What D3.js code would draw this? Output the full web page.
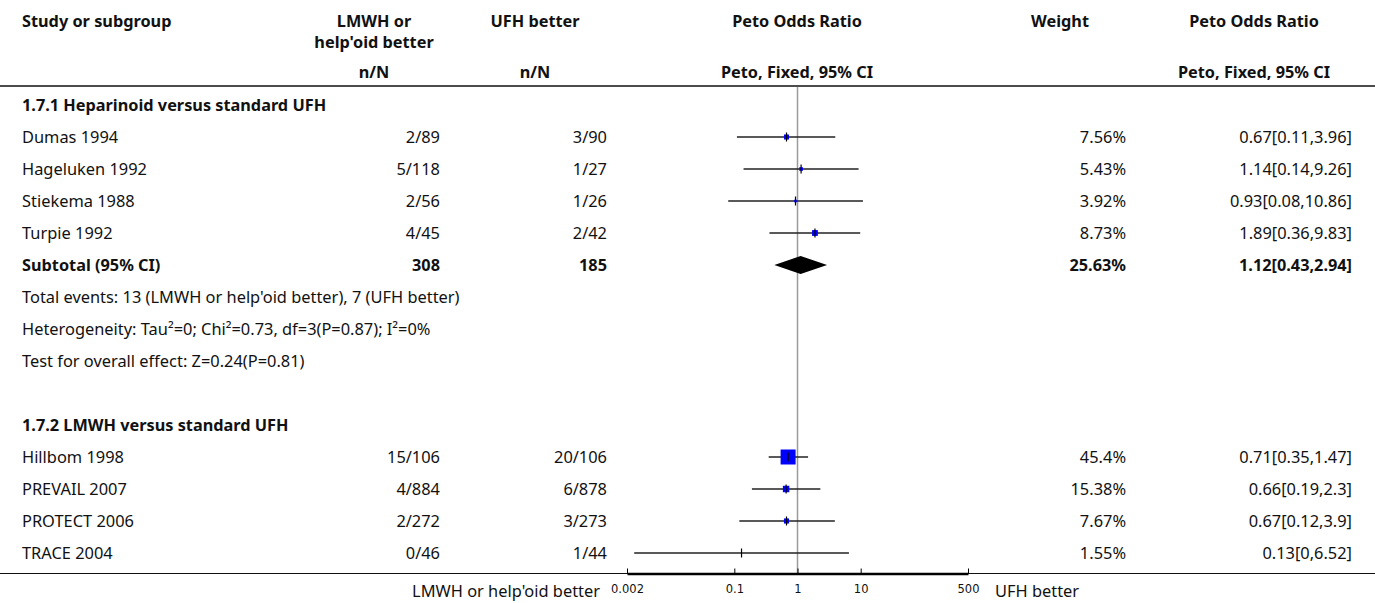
<!DOCTYPE html>
<html>
<head>
<meta charset="utf-8">
<script src="https://cdn.jsdelivr.net/npm/d3@7"></script>
<style>
  body { margin: 0; background: #fff; }
  text { font-family: "Noto Sans", "Open Sans", sans-serif; fill: #111; }
  .bold { font-weight: bold; font-size: 16.3px; }
  .tick text { font-family: "DejaVu Sans", sans-serif; }
</style>
</head>
<body>
<script>
//overall size
var totalWidth = 1375;
var totalHeight = 603;
var fontSize = 16.4;

//data, subgroup 1.7.1
var group1Title = "1.7.1 Heparinoid versus standard UFH";
var group1Studies = ["Dumas 1994", "Hageluken 1992", "Stiekema 1988", "Turpie 1992"];
var group1Treat = ["2/89", "5/118", "2/56", "4/45"];
var group1Ctrl = ["3/90", "1/27", "1/26", "2/42"];
var group1Weight = [7.56, 5.43, 3.92, 8.73];
var group1OR = [0.67, 1.14, 0.93, 1.89];
var group1Low = [0.11, 0.14, 0.08, 0.36];
var group1High = [3.96, 9.26, 10.86, 9.83];

//subtotal of subgroup 1.7.1
var subtotalTotals = [308, 185];
var subtotalWeight = 25.63;
var subtotalOR = [1.12, 0.43, 2.94];
var subtotalNotes = [
    "Total events: 13 (LMWH or help'oid better), 7 (UFH better)",
    "Heterogeneity: Tau\u00B2=0; Chi\u00B2=0.73, df=3(P=0.87); I\u00B2=0%",
    "Test for overall effect: Z=0.24(P=0.81)"
];

//data, subgroup 1.7.2 (no subtotal shown)
var group2Title = "1.7.2 LMWH versus standard UFH";
var group2Studies = ["Hillbom 1998", "PREVAIL 2007", "PROTECT 2006", "TRACE 2004"];
var group2Treat = ["15/106", "4/884", "2/272", "0/46"];
var group2Ctrl = ["20/106", "6/878", "3/273", "1/44"];
var group2Weight = [45.4, 15.38, 7.67, 1.55];
var group2OR = [0.71, 0.66, 0.67, 0.13];
var group2Low = [0.35, 0.19, 0.12, 0.0026];
var group2High = [1.47, 2.3, 3.9, 6.52];

//axis
var axisTicks = [0.002, 0.1, 1, 10, 500];
var leftFavour = "LMWH or help'oid better";
var rightFavour = "UFH better";

//column positions
var col = {
    study: 22,
    treat: 440, treatHead: 374,
    ctrl: 607, ctrlHead: 535,
    plotHead: 797,
    weight: 1126, weightHead: 1060,
    ci: 1352, ciHead: 1254
};
var headerLineY = 86;
var bottomLineY = 573.5;
var firstRowY = 105;
var rowStep = 32;

var svg = d3.select("body").append("svg")
    .attr("width", totalWidth)
    .attr("height", totalHeight)
    .style("font-size", fontSize + "px");

var xScale = d3.scaleLog()
    .domain([0.002, 500])
    .range([627, 968])
    .clamp(true);

//marker size follows the weight
var sizeScale = d3.scaleLinear()
    .domain([0, 9, 16, 45.4])
    .range([0, 6, 6.5, 15]);

function fmt(v) { return String(+v.toFixed(2)); }
function ciLabel(or, lo, hi) { return fmt(or) + "[" + fmt(lo) + "," + fmt(hi) + "]"; }
function rowY(i) { return firstRowY + rowStep * i; }

function addText(x, y, str, anchor, bold) {
    return svg.append("text")
        .attr("x", x)
        .attr("y", y)
        .attr("text-anchor", anchor || "start")
        .attr("class", bold ? "bold" : null)
        .text(str);
}

//header
var headers = [
    {x: col.study, y: 27, t: "Study or subgroup", a: "start"},
    {x: col.treatHead, y: 27, t: "LMWH or"},
    {x: col.treatHead, y: 48, t: "help'oid better"},
    {x: col.ctrlHead, y: 27, t: "UFH better"},
    {x: col.plotHead, y: 27, t: "Peto Odds Ratio"},
    {x: col.weightHead, y: 27, t: "Weight"},
    {x: col.ciHead, y: 27, t: "Peto Odds Ratio"},
    {x: col.treatHead, y: 78, t: "n/N"},
    {x: col.ctrlHead, y: 78, t: "n/N"},
    {x: col.plotHead, y: 78, t: "Peto, Fixed, 95% CI"},
    {x: col.ciHead, y: 78, t: "Peto, Fixed, 95% CI"}
];
headers.forEach(h => addText(h.x, h.y, h.t, h.a || "middle", true));

//build the list of rows
var rows = [];
rows.push({type: "title", label: group1Title});
group1Studies.forEach((s, i) => rows.push({
    type: "study", label: s, treat: group1Treat[i], ctrl: group1Ctrl[i],
    weight: group1Weight[i], or: group1OR[i], lo: group1Low[i], hi: group1High[i]
}));
rows.push({type: "subtotal", label: "Subtotal (95% CI)", treat: subtotalTotals[0], ctrl: subtotalTotals[1],
    weight: subtotalWeight, or: subtotalOR[0], lo: subtotalOR[1], hi: subtotalOR[2]});
subtotalNotes.forEach(n => rows.push({type: "note", label: n}));
rows.push({type: "blank"});
rows.push({type: "title", label: group2Title});
group2Studies.forEach((s, i) => rows.push({
    type: "study", label: s, treat: group2Treat[i], ctrl: group2Ctrl[i],
    weight: group2Weight[i], or: group2OR[i], lo: group2Low[i], hi: group2High[i]
}));

//table rules
svg.append("line")
    .attr("x1", 0).attr("x2", totalWidth)
    .attr("y1", headerLineY).attr("y2", headerLineY)
    .attr("stroke", "#111").attr("stroke-width", 1.5);

svg.append("line")
    .attr("x1", 0).attr("x2", totalWidth)
    .attr("y1", bottomLineY).attr("y2", bottomLineY)
    .attr("stroke", "#111").attr("stroke-width", 1);

//line of no effect
svg.append("line")
    .attr("x1", xScale(1)).attr("x2", xScale(1))
    .attr("y1", headerLineY + 1).attr("y2", bottomLineY)
    .attr("stroke", "#9a9a9a").attr("stroke-width", 1.5);

var g = svg.append("g");

rows.forEach((r, i) => {
    var cy = rowY(i);
    var by = cy + 6;
    if (r.type === "blank") return;
    if (r.type === "title") { addText(col.study, by, r.label, "start", true); return; }
    if (r.type === "note") { addText(col.study, by, r.label, "start", false); return; }

    var bold = r.type === "subtotal";
    addText(col.study, by, r.label, "start", bold);
    addText(col.treat, by, r.treat, "end", bold);
    addText(col.ctrl, by, r.ctrl, "end", bold);
    addText(col.weight, by, fmt(r.weight) + "%", "end", bold);
    addText(col.ci, by, ciLabel(r.or, r.lo, r.hi), "end", bold);

    if (r.type === "subtotal") {
        var pts = [
            [xScale(r.lo), cy], [xScale(r.or), cy - 9],
            [xScale(r.hi), cy], [xScale(r.or), cy + 9]
        ];
        g.append("polygon")
            .attr("points", pts.map(p => p.join(",")).join(" "))
            .attr("fill", "#000");
        return;
    }

    //confidence interval
    g.append("line")
        .attr("x1", xScale(r.lo)).attr("x2", xScale(r.hi))
        .attr("y1", cy).attr("y2", cy)
        .attr("stroke", "#222").attr("stroke-width", 1.5);

    var s = sizeScale(r.weight);
    g.append("rect")
        .attr("x", xScale(r.or) - s / 2)
        .attr("y", cy - s / 2)
        .attr("width", s)
        .attr("height", s)
        .attr("fill", "#0000ff");

    g.append("line")
        .attr("x1", xScale(r.or)).attr("x2", xScale(r.or))
        .attr("y1", cy - 4.5).attr("y2", cy + 4.5)
        .attr("stroke", "#000").attr("stroke-width", 1.2);
});

//axis
var xAxis = d3.axisBottom(xScale)
    .tickValues(axisTicks)
    .tickFormat(d => String(d))
    .tickSizeInner(-5)
    .tickSizeOuter(0)
    .tickPadding(11);

var axisG = svg.append("g")
    .attr("transform", "translate(0," + bottomLineY + ")")
    .call(xAxis);
axisG.select(".domain").attr("stroke", "#000").attr("stroke-width", 2.5);
axisG.selectAll(".tick line").attr("stroke", "#000");
axisG.selectAll(".tick text").style("font-size", "11.5px").attr("fill", "#111");

addText(600, 597, leftFavour, "end", false);
addText(995, 597, rightFavour, "start", false);
</script>
</body>
</html>
